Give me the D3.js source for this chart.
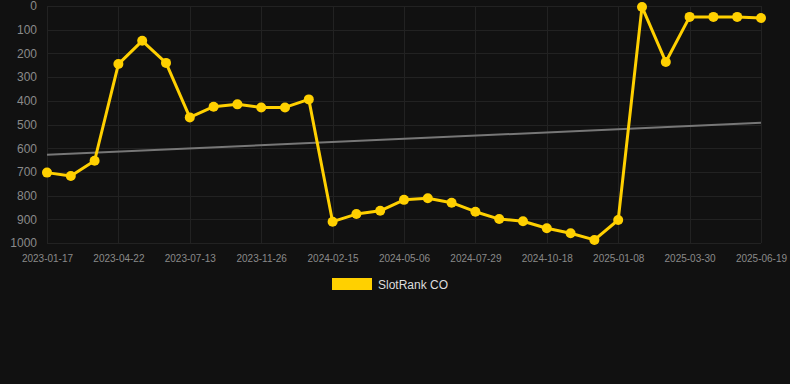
<!DOCTYPE html>
<html><head><meta charset="utf-8">
<script src="https://cdn.jsdelivr.net/npm/d3@7"></script>
<style>html,body{margin:0;padding:0;background:#111111;}svg{display:block;}</style>
</head><body>
<svg id="chart" width="790" height="384"></svg>
<script>
const categories = ["2023-01-17","2023-02-20","2023-03-24","2023-04-22","2023-05-20","2023-06-16","2023-07-13","2023-08-26","2023-10-10","2023-11-26","2023-12-24","2024-01-20","2024-02-15","2024-03-12","2024-04-09","2024-05-06","2024-06-02","2024-07-01","2024-07-29","2024-08-25","2024-09-21","2024-10-18","2024-11-13","2024-12-11","2025-01-08","2025-02-03","2025-03-03","2025-03-30","2025-04-26","2025-05-23","2025-06-19"];
const rankValues = [703,717,653,245,147,240,470,425,415,428,428,394,910,878,864,818,811,830,868,899,908,938,959,987,903,4,236,46,46,46,51];
const trendValues = [628,493];
const yTicks = [0,100,200,300,400,500,600,700,800,900,1000];
const xTickLabels = ["2023-01-17","2023-04-22","2023-07-13","2023-11-26","2024-02-15","2024-05-06","2024-07-29","2024-10-18","2025-01-08","2025-03-30","2025-06-19"];
const seriesName = "SlotRank CO";

const svg = d3.select("#chart");
const x = d3.scalePoint().domain(categories).range([47, 761]);
const y = d3.scaleLinear().domain([0, 1000]).range([6, 243]);
const font = "'Liberation Sans', Arial, sans-serif";

// grid
const g = svg.append("g");
g.selectAll("line.h").data(yTicks).join("line")
  .attr("x1", 47).attr("x2", 761)
  .attr("y1", d => Math.round(y(d)) + 0.5).attr("y2", d => Math.round(y(d)) + 0.5)
  .attr("stroke", "#222").attr("stroke-width", 1);
g.selectAll("line.v").data(xTickLabels).join("line")
  .attr("x1", d => Math.round(x(d)) + 0.5).attr("x2", d => Math.round(x(d)) + 0.5)
  .attr("y1", y(0)).attr("y2", y(1000))
  .attr("stroke", "#222").attr("stroke-width", 1);

// y axis labels
const yAxis = svg.append("g").attr("transform", "translate(37,0)")
  .call(d3.axisLeft(y).tickValues(yTicks).tickFormat(d3.format("d")).tickSize(0).tickPadding(0));
yAxis.select(".domain").remove();
yAxis.selectAll("text").attr("fill", "#8a8a8a").attr("font-size", "12px").attr("font-family", font);

// x axis labels
const xAxis = svg.append("g").attr("transform", `translate(0,${y(1000)+12})`)
  .call(d3.axisBottom(x).tickValues(xTickLabels).tickSize(0).tickPadding(0));
xAxis.select(".domain").remove();
xAxis.selectAll("text").attr("fill", "#8a8a8a").attr("font-size", "10px").attr("font-family", font);

// trend line
svg.append("line")
  .attr("x1", x(categories[0])).attr("x2", x(categories[categories.length-1]))
  .attr("y1", y(trendValues[0])).attr("y2", y(trendValues[1]))
  .attr("stroke", "#777").attr("stroke-width", 2);

// series line
const data = categories.map((c, i) => ({c, v: rankValues[i]}));
svg.append("path").datum(data)
  .attr("fill", "none").attr("stroke", "#FFD000").attr("stroke-width", 3).attr("stroke-linejoin", "round")
  .attr("d", d3.line().x(d => x(d.c)).y(d => y(d.v)));
svg.selectAll("circle.pt").data(data).join("circle")
  .attr("cx", d => x(d.c)).attr("cy", d => y(d.v)).attr("r", 5)
  .attr("fill", "#FFD000");

// legend
const lg = svg.append("g");
lg.append("rect").attr("x", 332).attr("y", 278).attr("width", 40).attr("height", 12).attr("fill", "#FFD000");
lg.append("text").attr("x", 378).attr("y", 288.5).text(seriesName)
  .attr("fill", "#ddd").attr("font-size", "12px").attr("font-family", font);
</script>
</body></html>
